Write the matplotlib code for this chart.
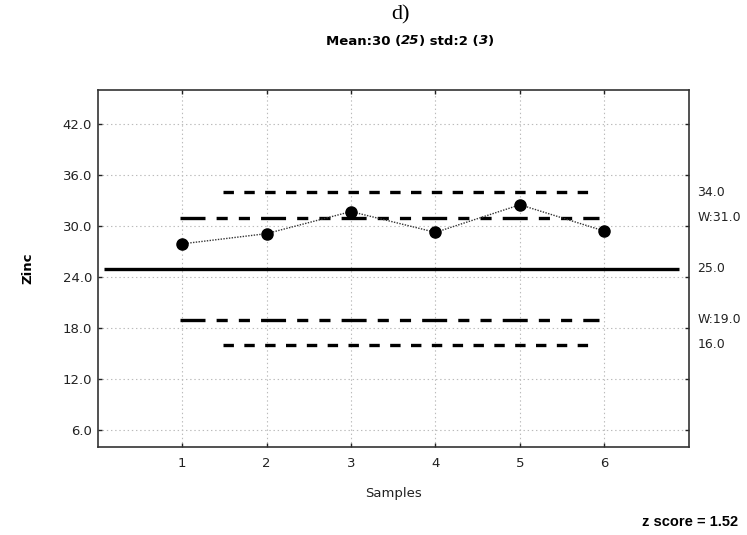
import matplotlib
matplotlib.use("Agg")
import matplotlib.pyplot as plt

plt.rcParams['font.family'] = ['DejaVu Sans']
plt.rcParams['lines.scale_dashes'] = False

# ---- data ----
samples = [1, 2, 3, 4, 5, 6]
zinc = [27.9, 29.1, 31.7, 29.25, 32.5, 29.4]
target = 25.0
warn_hi, warn_lo = 31.0, 19.0
act_hi, act_lo = 34.0, 16.0
right_labels = ["34.0", "W:31.0", "25.0", "W:19.0", "16.0"]
right_values = [act_hi, warn_hi, target, warn_lo, act_lo]
yticks = [6, 12, 18, 24, 30, 36, 42]
ytick_labels = ["6.0", "12.0", "18.0", "24.0", "30.0", "36.0", "42.0"]
title_parts = [("Mean:30 (", "normal"), ("25", "italic"), (") std:2 (", "normal"), ("3", "italic"), (")", "normal")]
zscore_text = "z score = 1.52"

W, H = 747, 535
fig = plt.figure(figsize=(W / 100, H / 100), dpi=100)
ax = fig.add_axes([97.5 / W, 1 - 447 / H, (689 - 97.5) / W, (447 - 90) / H])

ax.set_xlim(0, 7)
ax.set_ylim(4, 46)
ax.set_xticks(samples)
ax.set_xticklabels([str(s) for s in samples], fontsize=9.5)
ax.set_yticks(yticks)
ax.set_yticklabels(ytick_labels, fontsize=9.5)
ax.tick_params(direction='in', length=3, width=1, top=True, right=True, colors='#222222')
ax.tick_params(axis='x', pad=7)
ax.tick_params(axis='y', pad=4)
ax.grid(True, color='#bbbbbb', linestyle=(0, (1, 2)), linewidth=0.8)
for s in ax.spines.values():
    s.set_linewidth(1.2)
    s.set_color('#333333')

lw = 2.4
# target line
ax.plot([0.08, 6.88], [target, target], color='black', linewidth=lw, solid_capstyle='butt')
# warning lines (long-short-short)
warn_dash = (0, (18, 8, 8, 8, 8, 8))
ax.plot([0.98, 5.94], [warn_hi, warn_hi], color='black', linewidth=lw, linestyle=warn_dash, dash_capstyle='butt')
ax.plot([0.98, 5.94], [warn_lo, warn_lo], color='black', linewidth=lw, linestyle=warn_dash, dash_capstyle='butt')
# action lines (short dashes)
act_dash = (0, (7.5, 7.5))
ax.plot([1.48, 5.87], [act_hi, act_hi], color='black', linewidth=lw, linestyle=act_dash, dash_capstyle='butt')
ax.plot([1.48, 5.87], [act_lo, act_lo], color='black', linewidth=lw, linestyle=act_dash, dash_capstyle='butt')

# data
ax.plot(samples, zinc, color='#333333', linewidth=1.0, linestyle=(0, (1, 1)),
        marker='o', markersize=8, markerfacecolor='black', markeredgecolor='black', zorder=5)

# right labels
for v, t in zip(right_values, right_labels):
    ax.annotate(t, xy=(1, v), xycoords=('axes fraction', 'data'), xytext=(6, 0),
                textcoords='offset points', fontsize=9, va='center', ha='left', color='#222222')

# axis labels
fig.text(393 / W, 1 - 494 / H, "Samples", fontsize=9.5, ha='center', va='center', color='#222222')
fig.text(28 / W, 1 - 268 / H, "Zinc", fontsize=9.5, fontweight='bold', rotation=90,
         ha='center', va='center')

# "d)" title
fig.text(401 / W, 1 - 15 / H, "d)", fontsize=16, family=['Liberation Serif', 'DejaVu Serif'],
         ha='center', va='center')

# mixed-style subtitle
fig.canvas.draw()
renderer = fig.canvas.get_renderer()
texts = []
for s, style in title_parts:
    t = fig.text(0, 1 - 41 / H, s, fontsize=9.5, fontweight='bold', fontstyle=style, va='center', ha='left')
    texts.append(t)
widths = [t.get_window_extent(renderer).width for t in texts]
total = sum(widths)
x = 410 - total / 2
for t, w in zip(texts, widths):
    t.set_x(x / W)
    x += w

fig.text(738 / W, 1 - 522 / H, zscore_text, fontsize=10.5,
         family=['Liberation Sans', 'DejaVu Sans'], fontweight='bold', ha='right', va='center')

fig.savefig("out.png", dpi=100)
